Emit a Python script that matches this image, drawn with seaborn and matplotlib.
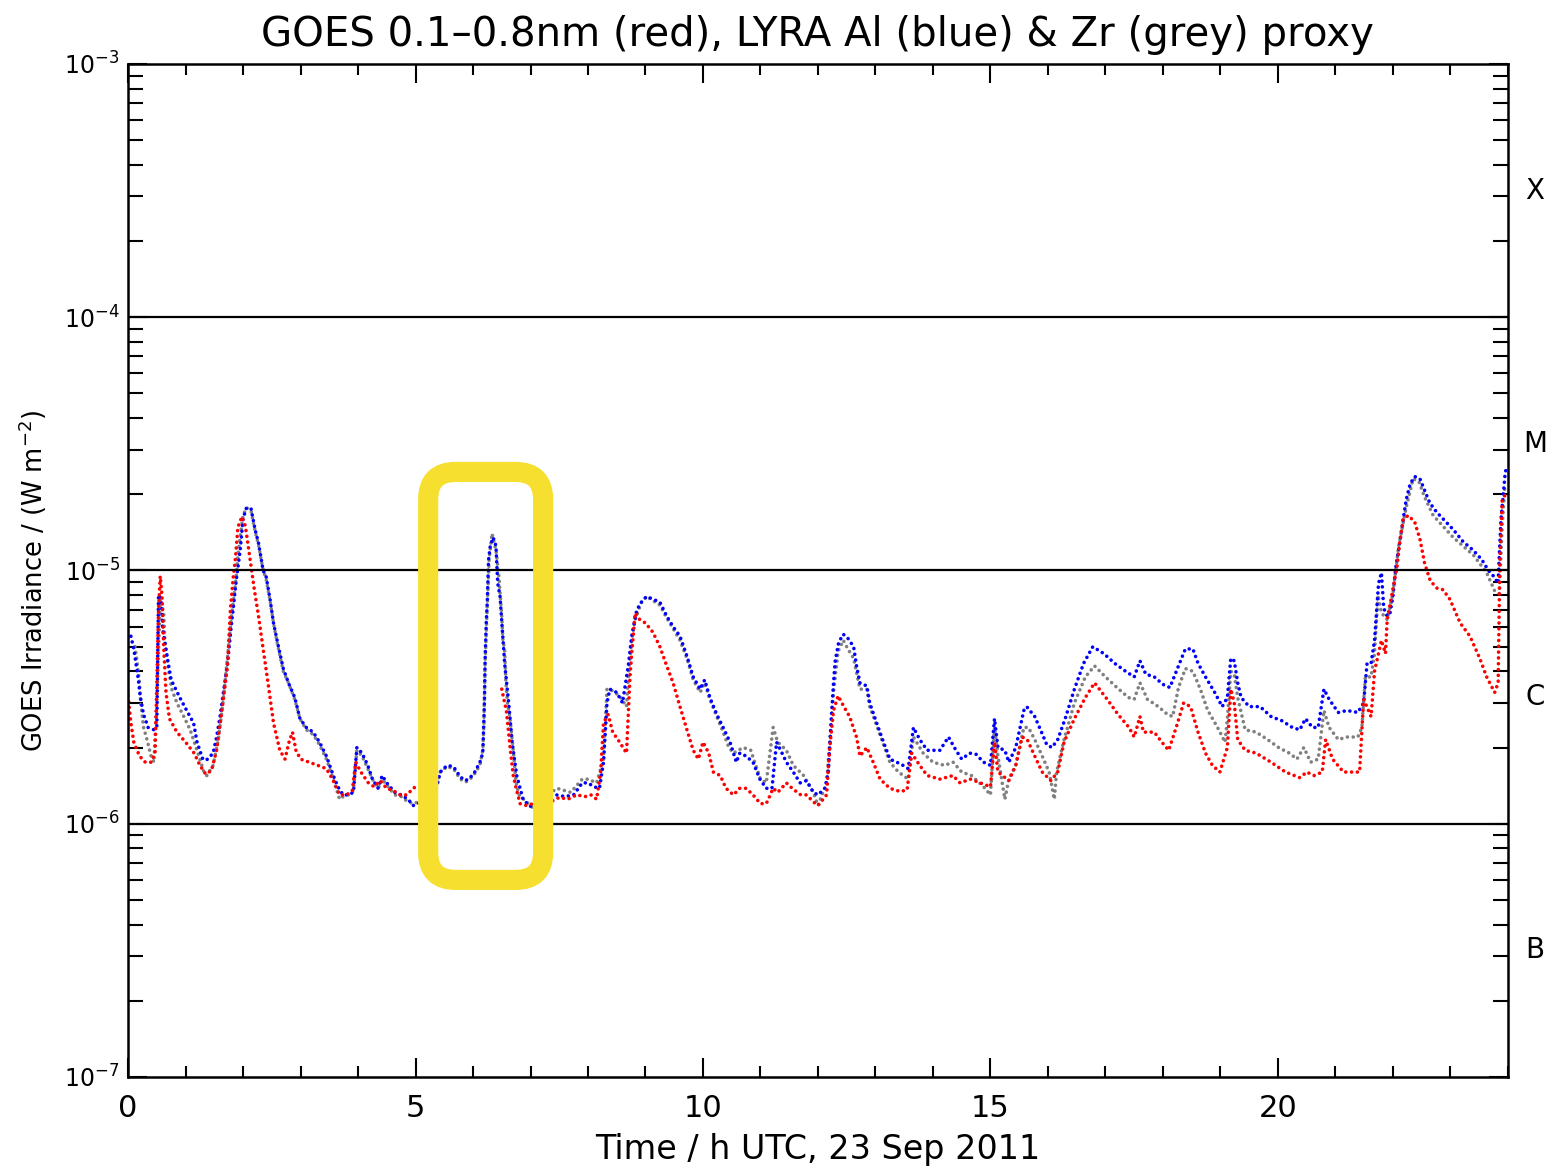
import numpy as np
import pandas as pd
import seaborn as sns
import matplotlib.pyplot as plt
from matplotlib.patches import FancyBboxPatch
from matplotlib.ticker import MultipleLocator, LogLocator


# values in units of 1e-6 W m^-2, time in hours UTC; nan = data gap
goes_t = [0.00, 0.05, 0.10, 0.20, 0.30, 0.40, 0.47, 0.50, 0.53, 0.56, 0.59, 0.62, 0.66, 0.72, 0.85,
          1.00, 1.15, 1.25, 1.35, 1.45, 1.54, 1.65, 1.73, 1.78, 1.83, 1.87, 1.91, 1.98, 2.04, 2.09,
          2.15, 2.20, 2.27, 2.35, 2.45, 2.53, 2.64, 2.73, 2.80, 2.86, 2.92, 3.00, 3.15, 3.30, 3.45,
          3.57, 3.68, 3.80, 3.90, 3.96, 4.05, 4.18, 4.28, 4.38, 4.50, 4.62, 4.73, 4.85, 4.96, 5.05,
          5.80,
          6.50, 6.55, 6.58, 6.61, 6.65, 6.70, 6.76, 6.82, 6.93, 7.05, 7.20, 7.35, 7.50, 7.65, 7.80,
          7.95, 8.05, 8.15, 8.22, 8.27, 8.35, 8.43, 8.55, 8.67, 8.70, 8.73, 8.76, 8.82, 8.90, 9.00,
          9.13, 9.25, 9.37, 9.48, 9.60, 9.72, 9.83, 9.92, 10.00, 10.10, 10.18, 10.30, 10.40, 10.53,
          10.64, 10.75, 10.87, 11.00, 11.10, 11.17, 11.22, 11.30, 11.45, 11.55, 11.70, 11.80, 11.92,
          12.00, 12.15, 12.20, 12.27, 12.35, 12.45, 12.55, 12.67, 12.73, 12.85, 12.96, 13.08, 13.25,
          13.43, 13.55, 13.63, 13.77, 13.90, 14.12, 14.35, 14.47, 14.65, 14.82, 15.00, 15.07, 15.13,
          15.32, 15.44, 15.55, 15.64, 15.77, 15.90, 16.05, 16.17, 16.28, 16.46, 16.65, 16.81, 17.03,
          17.22, 17.41, 17.50, 17.60, 17.66, 17.85, 17.98, 18.10, 18.23, 18.36, 18.48, 18.61, 18.74,
          18.86, 18.99, 19.12, 19.18, 19.24, 19.30, 19.43, 19.62, 19.88, 20.13, 20.38, 20.50, 20.63,
          20.77, 20.83, 20.95, 21.14, 21.33, 21.42, 21.49, 21.62, 21.68, 21.80, 21.87, 21.90, 22.07,
          22.12, 22.18, 22.27, 22.38, 22.47, 22.55, 22.65, 22.77, 22.87, 22.99, 23.17, 23.34, 23.51,
          23.63, 23.77, 23.83, 23.86, 23.90, 23.96]
goes_v = [3.2, 2.5, 2.1, 1.85, 1.75, 1.75, 1.9, 3.5, 7.0, 9.5, 8.0, 5.0, 3.3, 2.6, 2.3,
          2.1, 1.9, 1.7, 1.57, 1.62, 1.95, 3.0, 4.2, 7.0, 9.4, 11.3, 14.8, 16.3, 15.0, 12.5,
          10.0, 8.3, 6.6, 4.9, 3.4, 2.5, 1.95, 1.8, 2.1, 2.3, 1.95, 1.8, 1.75, 1.7, 1.65,
          1.48, 1.3, 1.3, 1.35, 1.75, 1.6, 1.45, 1.4, 1.48, 1.38, 1.35, 1.3, 1.3, 1.38, 1.42,
          np.nan,
          3.4, 3.0, 2.8, 2.4, 1.95, 1.55, 1.35, 1.2, 1.18, 1.2, 1.25, 1.22, 1.27, 1.25, 1.3,
          1.28, 1.3, 1.25, 1.6, 2.5, 2.7, 2.3, 2.1, 1.9, 2.7, 3.8, 4.7, 6.8, 6.4, 6.2,
          5.7, 5.0, 4.2, 3.6, 2.9, 2.35, 1.95, 1.8, 2.1, 1.9, 1.6, 1.55, 1.38, 1.3,
          1.38, 1.38, 1.3, 1.2, 1.2, 1.3, 1.38, 1.33, 1.45, 1.38, 1.3, 1.3, 1.22,
          1.18, 1.3, 1.95, 2.8, 3.2, 2.9, 2.65, 2.2, 1.85, 2.0, 1.75, 1.5, 1.38,
          1.34, 1.36, 1.9, 1.7, 1.55, 1.5, 1.55, 1.45, 1.5, 1.45, 1.4, 2.1, 1.6,
          1.48, 1.7, 2.2, 2.15, 1.85, 1.6, 1.48, 1.6, 2.1, 2.6, 3.15, 3.6, 3.1,
          2.7, 2.4, 2.2, 2.65, 2.3, 2.3, 2.1, 1.95, 2.4, 3.0, 2.9, 2.3, 1.9,
          1.7, 1.6, 2.0, 3.4, 3.0, 2.15, 1.95, 1.9, 1.75, 1.6, 1.52, 1.6, 1.55,
          1.6, 2.15, 1.8, 1.6, 1.6, 1.6, 3.1, 2.65, 4.0, 5.3, 4.7, 6.4, 10.3,
          13.0, 16.0, 16.5, 15.5, 13.3, 10.7, 9.1, 8.5, 8.4, 7.7, 6.2, 5.5, 4.5,
          3.8, 3.3, 3.6, 11.0, 19.0, 20.0]

lyra_al_t = [0.05, 0.10, 0.15, 0.18, 0.21, 0.27, 0.35, 0.45, 0.50, 0.53, 0.58, 0.60, 0.64, 0.70, 0.75,
             0.90, 1.02, 1.14, 1.20, 1.30, 1.36, 1.48, 1.54, 1.60, 1.69, 1.74, 1.80, 1.83, 1.88, 1.95,
             2.00, 2.06, 2.14, 2.21, 2.27, 2.35, 2.40, 2.47, 2.53, 2.60, 2.70, 2.79, 2.90, 2.99, 3.10,
             3.22, 3.33, 3.45, 3.57, 3.65, 3.74, 3.83, 3.92, 3.98, 4.07, 4.17, 4.25, 4.35, 4.42, 4.50,
             4.64, 4.75, 4.87, 4.96, 5.05, 5.20, 5.37, 5.43, 5.55, 5.66, 5.78, 5.87, 5.95, 6.03, 6.12,
             6.17, 6.19, 6.20, 6.21, 6.23, 6.25, 6.26, 6.27, 6.30, 6.35, 6.40, 6.41, 6.43, 6.47, 6.55,
             6.62, 6.68, 6.72, 6.76, 6.82, 6.87, 6.99, 7.10, 7.30, 7.45, 7.60, 7.75, 7.90, 8.00, 8.10,
             8.20, 8.27, 8.33, 8.38, 8.50, 8.60, 8.70, 8.76, 8.79, 8.85, 8.93, 9.02, 9.13, 9.25, 9.37,
             9.48, 9.60, 9.72, 9.83, 9.95, 10.03, 10.12, 10.24, 10.35, 10.47, 10.58, 10.64, 10.75, 10.87,
             10.99, 11.10, 11.20, 11.28, 11.40, 11.45, 11.57, 11.69, 11.80, 11.92, 12.00, 12.12, 12.18,
             12.24, 12.27, 12.30, 12.36, 12.44, 12.52, 12.62, 12.67, 12.73, 12.85, 12.90, 13.02, 13.14,
             13.25, 13.37, 13.48, 13.57, 13.66, 13.77, 13.90, 14.00, 14.12, 14.27, 14.40, 14.50, 14.64,
             14.75, 14.88, 15.00, 15.07, 15.13, 15.25, 15.32, 15.44, 15.58, 15.63, 15.77, 15.87, 15.98,
             16.07, 16.17, 16.30, 16.46, 16.62, 16.78, 16.97, 17.16, 17.35, 17.50, 17.60, 17.70, 17.85,
             18.00, 18.12, 18.27, 18.39, 18.52, 18.61, 18.74, 18.90, 19.03, 19.12, 19.18, 19.24, 19.30,
             19.36, 19.50, 19.69, 19.88, 20.07, 20.25, 20.38, 20.48, 20.60, 20.70, 20.80, 20.89, 21.05,
             21.20, 21.39, 21.49, 21.55, 21.62, 21.68, 21.75, 21.80, 21.84, 21.90, 21.95, 22.00, 22.02,
             22.05, 22.12, 22.18, 22.23, 22.30, 22.38, 22.47, 22.56, 22.64, 22.76, 22.87, 23.05, 23.22,
             23.40, 23.55, 23.66, 23.75, 23.83, 23.85, 23.88, 23.92, 23.95, 23.98]
lyra_al_v = [5.5, 4.9, 4.1, 3.7, 3.2, 2.7, 2.4, 2.35, 2.4, 8.0, 7.7, 5.9, 5.2, 4.3, 3.7,
             3.15, 2.8, 2.5, 2.1, 1.8, 1.78, 1.9, 2.2, 2.65, 3.7, 4.5, 6.2, 7.1, 9.1, 12.0,
             16.0, 17.7, 17.5, 14.5, 12.8, 10.0, 9.5, 7.7, 6.2, 5.2, 4.1, 3.6, 3.15, 2.6, 2.4,
             2.3, 2.1, 1.85, 1.55, 1.4, 1.3, 1.3, 1.33, 2.0, 1.9, 1.7, 1.5, 1.38, 1.55, 1.45,
             1.33, 1.3, 1.25, 1.18, 1.2, 1.3, 1.4, 1.6, 1.7, 1.68, 1.53, 1.48, 1.52, 1.6, 1.75,
             1.9, 2.6, 3.15, 4.4, 6.2, 7.7, 9.1, 11.0, 12.5, 13.5, 12.5, 11.0, 8.9, 7.9, 4.3,
             3.0, 2.1, 1.8, 1.55, 1.38, 1.25, 1.17, 1.2, 1.28, 1.3, 1.28, 1.3, 1.45, 1.45, 1.4,
             1.38, 1.75, 3.0, 3.4, 3.3, 3.0, 4.2, 5.5, 6.0, 7.0, 7.5, 7.9, 7.7, 7.5, 6.6,
             6.0, 5.5, 4.6, 3.8, 3.4, 3.7, 3.15, 2.7, 2.4, 2.1, 1.75, 1.9, 1.85, 1.75,
             1.5, 1.38, 1.38, 2.1, 1.85, 1.75, 1.6, 1.45, 1.48, 1.33, 1.3, 1.38, 1.6,
             2.8, 3.6, 4.4, 5.2, 5.6, 5.4, 5.0, 4.2, 3.6, 3.5, 3.0, 2.5, 2.1,
             1.8, 1.75, 1.7, 1.65, 2.4, 2.15, 1.95, 1.95, 1.95, 2.2, 1.95, 1.8, 1.9,
             1.88, 1.75, 1.7, 2.6, 2.0, 1.95, 1.75, 2.0, 2.8, 2.9, 2.65, 2.35, 2.05,
             2.0, 2.15, 2.6, 3.4, 4.3, 5.0, 4.7, 4.3, 4.0, 3.8, 4.4, 3.9, 3.8,
             3.55, 3.45, 4.2, 4.9, 4.9, 4.3, 3.8, 3.3, 2.9, 3.15, 4.5, 4.4, 3.6,
             3.15, 2.9, 2.9, 2.65, 2.55, 2.4, 2.35, 2.6, 2.4, 2.4, 3.4, 3.1, 2.75,
             2.8, 2.75, 3.0, 4.3, 4.3, 5.3, 8.9, 9.8, 7.1, 6.6, 6.8, 7.9, 8.9,
             10.3, 13.0, 16.0, 19.0, 22.0, 23.5, 23.0, 20.5, 18.5, 17.0, 16.0, 14.5, 13.0,
             12.0, 11.0, 10.0, 9.5, 8.9, 11.5, 16.0, 20.0, 24.0, 26.0]

lyra_zr_t = [0.12, 0.15, 0.20, 0.22, 0.27, 0.33, 0.40, 0.45, 0.50, 0.56, 0.62, 0.64, 0.70, 0.76, 0.85,
             0.97, 1.08, 1.20, 1.32, 1.37, 1.48, 1.57, 1.65, 1.72, 1.80, 1.87, 1.92, 2.00, 2.06, 2.14,
             2.21, 2.27, 2.35, 2.40, 2.47, 2.53, 2.60, 2.70, 2.79, 2.90, 2.99, 3.10, 3.22, 3.33, 3.45,
             3.57, 3.68, 3.74, 3.83, 3.92, 3.98, 4.07, 4.17, 4.25, 4.35, 4.42, 4.50, 4.64, 4.75, 4.87,
             4.96, 5.05, 5.20, 5.37, 5.43, 5.55, 5.66, 5.78, 5.87, 5.95, 6.03, 6.12, 6.17, 6.19, 6.21,
             6.25, 6.28, 6.33, 6.40, 6.45, 6.50, 6.52, 6.55, 6.57, 6.60, 6.64, 6.68, 6.70, 6.75, 6.80,
             7.05, 7.20, 7.46, 7.70, 7.90, 8.00, 8.15, 8.27, 8.33, 8.38, 8.55, 8.67, 8.70, 8.76, 8.82,
             8.93, 9.02, 9.13, 9.25, 9.37, 9.48, 9.60, 9.72, 9.83, 9.95, 10.03, 10.12, 10.24, 10.35,
             10.45, 10.53, 10.70, 10.83, 11.00, 11.10, 11.22, 11.30, 11.45, 11.57, 11.75, 11.92, 12.00,
             12.15, 12.27, 12.35, 12.44, 12.52, 12.62, 12.73, 12.85, 12.90, 13.02, 13.14, 13.25, 13.40,
             13.57, 13.66, 13.83, 14.00, 14.20, 14.35, 14.50, 14.67, 14.88, 15.00, 15.07, 15.13, 15.25,
             15.32, 15.44, 15.58, 15.66, 15.77, 15.90, 16.02, 16.11, 16.15, 16.28, 16.46, 16.65, 16.81,
             17.00, 17.20, 17.40, 17.50, 17.60, 17.73, 17.92, 18.08, 18.17, 18.27, 18.39, 18.52, 18.65,
             18.78, 18.95, 19.08, 19.12, 19.18, 19.24, 19.30, 19.43, 19.62, 19.82, 20.01, 20.20, 20.33,
             20.45, 20.57, 20.70, 20.80, 20.89, 21.05, 21.20, 21.39, 21.46, 21.52, 21.62, 21.68, 21.74,
             21.80, 21.90, 22.00, 22.10, 22.23, 22.35, 22.45, 22.55, 22.70, 23.05, 23.40, 23.63, 23.77,
             23.85, 23.90, 23.95]
lyra_zr_v = [5.0, 4.5, 3.6, 3.0, 2.4, 2.15, 1.85, 1.75, 3.0, 7.7, 6.8, 5.3, 4.1, 3.4, 3.0,
             2.65, 2.35, 1.95, 1.6, 1.55, 1.7, 2.15, 3.0, 4.3, 6.6, 8.9, 12.0, 16.5, 17.7, 17.2,
             14.3, 12.6, 10.0, 9.3, 7.6, 6.2, 5.1, 4.0, 3.6, 3.1, 2.6, 2.35, 2.25, 2.05, 1.8,
             1.5, 1.25, 1.28, 1.3, 1.35, 1.95, 1.85, 1.65, 1.5, 1.38, 1.5, 1.42, 1.3, 1.28, 1.22,
             1.2, 1.22, 1.3, 1.42, 1.6, 1.68, 1.65, 1.5, 1.46, 1.5, 1.58, 1.7, 1.95, 2.5, 4.3,
             7.5, 11.0, 14.0, 12.0, 9.5, 6.6, 5.3, 4.9, 3.7, 3.0, 2.65, 2.15, 1.95, 1.45, 1.3,
             1.15, 1.25, 1.38, 1.33, 1.5, 1.5, 1.45, 1.8, 3.4, 3.4, 3.2, 2.9, 3.8, 5.3, 6.4,
             7.5, 7.9, 7.6, 7.3, 6.5, 5.9, 5.3, 4.5, 3.7, 3.3, 3.6, 3.1, 2.65, 2.3,
             2.0, 1.9, 2.0, 1.95, 1.5, 1.45, 2.4, 2.1, 1.95, 1.7, 1.55, 1.33, 1.18,
             1.45, 3.3, 4.8, 5.3, 4.9, 4.5, 3.4, 3.4, 2.9, 2.45, 2.05, 1.75, 1.6,
             1.5, 2.2, 1.9, 1.75, 1.7, 1.75, 1.6, 1.55, 1.4, 1.3, 2.4, 1.85, 1.25,
             1.5, 1.7, 2.4, 2.4, 2.15, 1.85, 1.6, 1.25, 1.6, 2.15, 3.0, 3.8, 4.2,
             3.8, 3.45, 3.15, 3.1, 3.6, 3.1, 2.9, 2.7, 2.65, 3.45, 4.1, 4.0, 3.4,
             2.8, 2.4, 2.1, 2.6, 4.0, 3.9, 3.15, 2.35, 2.3, 2.15, 2.0, 1.9, 1.8,
             2.0, 1.75, 1.8, 2.8, 2.4, 2.15, 2.2, 2.2, 2.4, 3.8, 3.8, 4.7, 8.0,
             6.8, 6.4, 8.1, 12.5, 17.7, 23.0, 22.5, 19.5, 16.5, 13.5, 11.5, 9.8, 8.3,
             8.1, 15.0, 22.0]

flare_class = ["B", "C", "M", "X"]
flare_decade = [1e-7, 1e-6, 1e-5, 1e-4]
class_lines = [1e-6, 1e-5, 1e-4]

# yellow highlight (time range, irradiance range)
box_t = (5.22, 7.22)
box_v = (6.0e-7, 2.45e-5)


def make_frame(t, v):
    d = pd.DataFrame({"t": t, "v": np.array(v, dtype=float) * 1e-6})
    d["seg"] = d["v"].isna().cumsum()
    return d.dropna()


goes = make_frame(goes_t, goes_v)
al = make_frame(lyra_al_t, lyra_al_v)
zr = make_frame(lyra_zr_t, lyra_zr_v)

sns.set_style("ticks", {"axes.edgecolor": "black", "xtick.color": "black",
                        "ytick.color": "black", "text.color": "black",
                        "axes.labelcolor": "black"})
plt.rcParams['font.family'] = ['DejaVu Sans']
plt.rcParams['mathtext.default'] = 'regular'

fig = plt.figure(figsize=(15.52, 11.70), dpi=100)
ax = fig.add_axes([0.0825, 0.0795, 0.8891, 0.8658])

dot = dict(estimator=None, units="seg", lw=2.6, linestyle=(0, (0.01, 1.6)),
           dash_capstyle="round", legend=False, ax=ax)
sns.lineplot(data=zr, x="t", y="v", color="#808080", **dot)
sns.lineplot(data=al, x="t", y="v", color="#0000ff", **dot)
sns.lineplot(data=goes, x="t", y="v", color="#ff0000", **dot)

for lv in class_lines:
    ax.axhline(lv, color="black", lw=1.6, zorder=3)

ax.set_yscale("log")
ax.set_xlim(0, 24)
ax.set_ylim(1e-7, 1e-3)
ax.xaxis.set_major_locator(MultipleLocator(5))
ax.xaxis.set_minor_locator(MultipleLocator(1))
ax.yaxis.set_minor_locator(LogLocator(base=10, subs=np.arange(2, 10)))

ax.tick_params(which="both", direction="in", top=True, right=True, width=1.5)
ax.tick_params(axis="x", which="major", length=14, labelsize=22, pad=12)
ax.tick_params(axis="x", which="minor", length=8)
ax.tick_params(axis="y", which="major", length=14, labelsize=17, pad=6)
ax.tick_params(axis="y", which="minor", length=11)
for sp in ax.spines.values():
    sp.set_linewidth(1.8)

ax.set_xlabel("Time / h UTC, 23 Sep 2011", fontsize=24)
ax.xaxis.set_label_coords(0.5, -0.072)
ax.xaxis.label.set_va("center")
ax.set_ylabel("GOES Irradiance / (W m$^{-2}$)", fontsize=18.5)
ax.yaxis.set_label_coords(-0.069, 0.49)
ax.yaxis.label.set_va("center")
ax.set_title("GOES 0.1\u20130.8nm (red), LYRA Al (blue) & Zr (grey) proxy",
             fontsize=29, y=1.0286, va="center", pad=0)

# flare class letters at mid-decade on the right
for cls, dec in zip(flare_class, flare_decade):
    ax.text(1.0196, dec * np.sqrt(10), cls, fontsize=20, ha="center", va="center",
            transform=ax.get_yaxis_transform())

# rounded highlight box, placed in axes fraction
fig.canvas.draw()
to_axes = ax.transData + ax.transAxes.inverted()
(x0, y0), (x1, y1) = to_axes.transform([(box_t[0], box_v[0]), (box_t[1], box_v[1])])
asp = ax.bbox.width / ax.bbox.height
box = FancyBboxPatch((x0, y0), x1 - x0, y1 - y0, transform=ax.transAxes,
                     boxstyle="round,pad=0,rounding_size=0.02", mutation_aspect=asp,
                     fill=False, ec="#f7df30", lw=14.5, clip_on=False, zorder=5)
ax.add_patch(box)

fig.savefig("out.png", dpi=100)
